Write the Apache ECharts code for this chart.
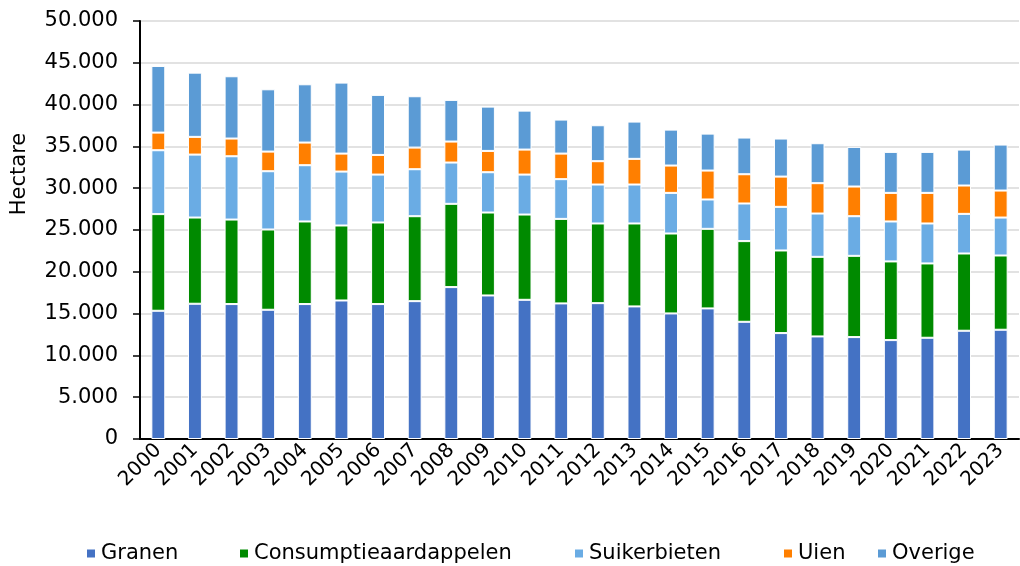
<!DOCTYPE html>
<html>
<head>
<meta charset="utf-8">
<script src="https://cdn.jsdelivr.net/npm/echarts@6/dist/echarts.min.js"></script>
<style>
  html, body { margin: 0; padding: 0; background: #fff; }
  #chart { width: 1020px; height: 566px; }
</style>
</head>
<body>
<div id="chart"></div>
<script>
const years = ["2000", "2001", "2002", "2003", "2004", "2005", "2006", "2007", "2008", "2009", "2010", "2011",
  "2012", "2013", "2014", "2015", "2016", "2017", "2018", "2019", "2020", "2021", "2022", "2023"];

const granen = [15340, 16180, 16140, 15460, 16140, 16570, 16140, 16490, 18170, 17170, 16650, 16220,
  16250, 15860, 15020, 15620, 14020, 12670, 12270, 12190, 11830, 12110, 12950, 13070];
const consumptieaardappelen = [11560, 10310, 10110, 9600, 9880, 8970, 9760, 10160, 9960, 9920, 10200, 10110,
  9530, 9920, 9560, 9520, 9650, 9880, 9520, 9720, 9410, 8890, 9240, 8880];
const suikerbieten = [7640, 7530, 7570, 6970, 6730, 6450, 5730, 5620, 4940, 4820, 4780, 4750,
  4660, 4660, 4860, 3510, 4500, 5220, 5180, 4740, 4780, 4780, 4740, 4540];
const uien = [2110, 2120, 2120, 2350, 2710, 2150, 2350, 2590, 2510, 2550, 2990, 3060,
  2790, 3070, 3270, 3460, 3500, 3620, 3630, 3550, 3420, 3660, 3390, 3230];
const overige = [7970, 7680, 7450, 7450, 6970, 8490, 7180, 6140, 4980, 5300, 4660, 4070,
  4300, 4460, 4300, 4420, 4390, 4550, 4780, 4740, 4900, 4900, 4300, 5500];

const seriesNames = ["Granen", "Consumptieaardappelen", "Suikerbieten", "Uien", "Overige"];
const seriesColors = ["#4472c4", "#008a00", "#6aace4", "#ff7f00", "#5b9bd5"];
const seriesData = [granen, consumptieaardappelen, suikerbieten, uien, overige];
const legendLeft = [80, 233, 568, 777, 871];

const font = "DejaVu Sans";
const chart = echarts.init(document.getElementById("chart"));

const option = {
  animation: false,
  textStyle: { fontFamily: font },
  grid: { left: 140, right: 1, top: 21, bottom: 127, containLabel: false },
  legend: seriesNames.map((name, i) => ({
    data: [name],
    left: legendLeft[i],
    top: 538,
    icon: "rect",
    itemWidth: 10,
    itemHeight: 10,
    itemGap: 8,
    textStyle: { fontFamily: font, fontSize: 21, color: "#000" },
  })),
  xAxis: {
    type: "category",
    data: years,
    axisLine: { lineStyle: { color: "#000", width: 2 } },
    axisTick: { show: false },
    axisLabel: { interval: 0, rotate: 45, fontSize: 20, color: "#000", margin: 8, fontFamily: font },
  },
  yAxis: {
    type: "value",
    min: 0,
    max: 50000,
    interval: 5000,
    axisLine: { show: true, lineStyle: { color: "#000", width: 2 } },
    axisTick: { show: true, length: 7, lineStyle: { color: "#000", width: 1.5 } },
    axisLabel: {
      fontSize: 21,
      color: "#000",
      margin: 22,
      fontFamily: font,
      formatter: (v) => v.toLocaleString("nl-NL"),
    },
    splitLine: { lineStyle: { color: "#d9d9d9", width: 1.5 } },
  },
  graphic: [{
    type: "text",
    x: 20,
    y: 174,
    rotation: Math.PI / 2,
    style: {
      text: "Hectare", fontSize: 21, fill: "#000", fontFamily: font,
      textAlign: "center", textVerticalAlign: "middle",
    },
  }],
  series: seriesNames.map((name, i) => ({
    name: name,
    type: "bar",
    stack: "total",
    barWidth: "38%",
    data: seriesData[i],
    itemStyle: { color: seriesColors[i], borderColor: "#fff", borderWidth: 1 },
  })),
};
chart.setOption(option);
</script>
</body>
</html>
